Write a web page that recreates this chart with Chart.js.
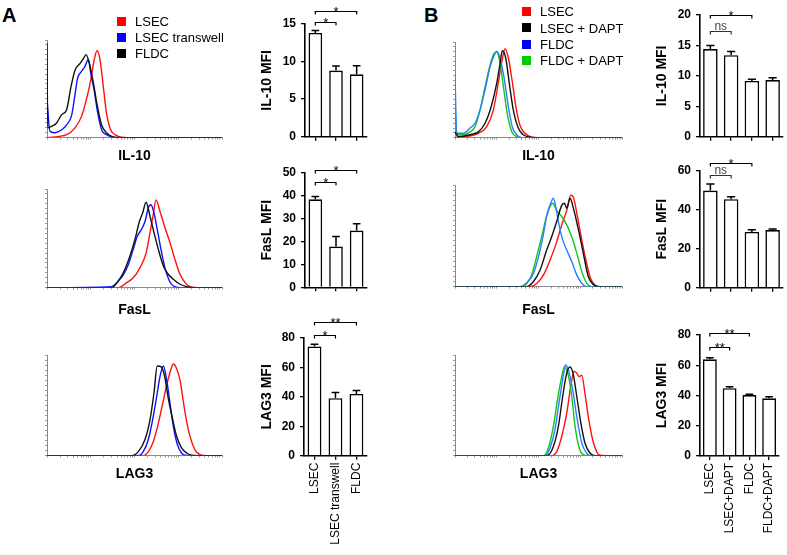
<!DOCTYPE html>
<html>
<head>
<meta charset="utf-8">
<script src="https://cdn.jsdelivr.net/npm/chart.js@4.4.0/dist/chart.umd.min.js"></script>
<style>
  body { margin: 0; background: #fff; width: 787px; height: 555px; position: relative; overflow: hidden;
         font-family: "Liberation Sans", Arial, sans-serif; }
  .box { position: absolute; }
  .pl { position: absolute; font-weight: bold; font-size: 20px; line-height: 20px; }
  .lg { position: absolute; font-size: 13px; line-height: 15px; white-space: nowrap; }
  .sq { position: absolute; width: 9px; height: 9px; }
</style>
</head>
<body>
<div class="pl" style="left:2px;top:5px">A</div>
<div class="pl" style="left:424px;top:5px">B</div>

<div class="box" style="left:30px;top:30px;width:200px;height:135px"><canvas id="hA1"></canvas></div>
<div class="box" style="left:30px;top:179px;width:200px;height:140px"><canvas id="hA2"></canvas></div>
<div class="box" style="left:30px;top:345px;width:200px;height:138px"><canvas id="hA3"></canvas></div>
<div class="box" style="left:438px;top:32px;width:192px;height:133px"><canvas id="hB1"></canvas></div>
<div class="box" style="left:438px;top:175px;width:192px;height:144px"><canvas id="hB2"></canvas></div>
<div class="box" style="left:438px;top:345px;width:192px;height:138px"><canvas id="hB3"></canvas></div>

<div class="box" style="left:255px;top:0px;width:120px;height:150px"><canvas id="bA1"></canvas></div>
<div class="box" style="left:255px;top:150px;width:120px;height:150px"><canvas id="bA2"></canvas></div>
<div class="box" style="left:255px;top:300px;width:120px;height:255px"><canvas id="bA3"></canvas></div>
<div class="box" style="left:650px;top:0px;width:137px;height:150px"><canvas id="bB1"></canvas></div>
<div class="box" style="left:650px;top:150px;width:137px;height:150px"><canvas id="bB2"></canvas></div>
<div class="box" style="left:650px;top:300px;width:137px;height:255px"><canvas id="bB3"></canvas></div>

<div id="legA"></div>
<div id="legB"></div>

<script>
// histogram traces: [position along log axis (0-100), % of max]
const a1Black = [[0,97],[0.4,10],[2.7,11.5],[5.5,15],[8.4,23.5],[11.2,28.6],[13.7,52],[16,69],[18.9,76],[20.8,81],[22.3,85],[24.2,76],[26.5,56],[28.8,32],[31.2,13],[34,5],[37,1.3],[41.7,0],[100,0]];
const a1Blue = [[0,39],[1.7,6.4],[4.6,5],[8.4,8],[11.2,13],[14.1,23],[16,44],[17.5,61],[19.8,68],[21.7,73],[23.6,80],[25,66],[26.9,49],[28.8,27],[31.2,8],[34,3],[37,0.7],[40,0],[100,0]];
const a1Red = [[0,0],[11.2,3],[16,10],[19.8,22],[22.7,40.5],[25,59],[27,80],[28.6,89],[30.3,80],[32.2,52],[34,25],[36.4,8],[38.9,3],[41.7,0.7],[47.6,0],[100,0]];

const a2Black = [[0,0],[37,0],[40,5],[43.6,15],[47.4,32],[50.3,49],[52.8,67],[54.7,76],[56.6,86.5],[58.9,72],[61.1,56],[63.6,39],[66.5,22],[69.3,13.5],[72.2,8.5],[76,3.4],[79.8,1],[85,0],[100,0]];
const a2Blue = [[0,0],[37,1],[40.8,6.7],[43.6,13],[46.5,23.5],[49.3,39],[51.6,52],[54,59],[56,67],[57.9,81],[59.4,84],[61.1,76],[63,59],[65.1,39],[67.4,20],[69.9,7],[72.2,1.6],[76,0],[100,0]];
const a2Red = [[0,0],[40.8,0],[45.5,5],[49.3,10],[53.1,20],[56.6,35],[58.9,56],[60.7,74],[62.3,89],[64.6,77],[67.4,61],[70.3,45.5],[73.1,28.6],[76,13.5],[78.9,5],[81.7,1],[86,0],[100,0]];

const a3Black = [[0,0],[48.4,0],[52.2,4],[56,16],[58.9,36],[61.1,62],[63,89],[65.5,88],[67.4,77],[69.3,57],[71.8,36],[74.1,19],[76.9,7.6],[79.8,2.6],[82.6,0.5],[86,0],[100,0]];
const a3Blue = [[0,0],[52.2,0],[55,4],[57.9,16],[60.4,36],[62.7,59],[64.6,79],[66.5,89],[68.4,75],[70.3,52],[72.2,29],[74.5,11],[76.9,2.6],[78.7,0.5],[82,0],[100,0]];
const a3Red = [[0,0],[55,0],[57.9,4],[60.8,14],[63.6,32],[66.5,55],[68.4,70],[70.7,85],[72.2,91],[73.7,88],[76,75],[78.3,49],[80.7,26],[83.2,11],[85.5,3.3],[87.4,1],[91,0],[100,0]];

const b1Red = [[0,0],[14,4.5],[19,11.5],[23,29],[26,58],[28,79],[30,93],[32,83],[34,62],[36.5,32],[38.9,13],[41.9,4.5],[45.9,0.5],[50,0],[100,0]];
const b1Black = [[0,6],[2,1],[9,3],[14,6],[18,15],[21.6,32],[25,57],[27,77.5],[28.3,91],[30.4,83],[32.5,57],[34.9,29],[37.9,10],[40.9,3],[44.8,0.5],[48,0],[100,0]];
const b1Blue = [[0,67],[1,4.5],[5,4.5],[9,10],[12,15],[15,29],[18,50],[21,74],[23.4,86],[25,90],[27,83],[29.3,63.5],[32,32],[34.5,10],[37.5,2],[40,0],[100,0]];
const b1Green = [[0,39],[1,3],[5,3],[9,6],[12,11.5],[15,29],[18,53],[21,76],[23.4,88],[25,89.5],[27,77.5],[29,53],[31.3,25],[34,6],[37,1],[40,0],[100,0]];

const b2Blue = [[0,0],[39,0],[43,4],[47,13],[50,29.5],[53,52],[55,70.5],[57.3,82],[58.9,87],[60.5,77],[62.5,59],[64.5,46],[66.9,36],[69.9,24.6],[72.9,11.5],[75.9,3.3],[78.8,0],[100,0]];
const b2Green = [[0,0],[41,0],[43,3],[45.9,11.5],[48.9,29.5],[51.9,49],[54.5,67],[56.9,79],[58.5,82],[60.9,75],[63.9,69],[66.9,60.7],[69.9,49],[72.9,33],[75.9,15],[78.8,3.3],[81.8,0],[100,0]];
const b2Black = [[0,0],[43,0],[47,5],[50.9,16],[54.9,36],[57.9,49],[60.9,64],[63.9,80],[65.5,82],[66.9,77],[68.9,87],[70.9,77],[73.9,56],[76.8,33],[79.8,10],[82.8,2],[85.8,0],[100,0]];
const b2Red = [[0,0],[45,0],[48.9,3],[53,11.5],[56.9,26],[60.9,44],[63.9,60.7],[66.9,75],[69.3,90],[70.9,88],[73.3,69],[75.9,46],[78.8,23],[81.2,8],[83.8,1.6],[86.8,0],[100,0]];

const b3Green = [[0,0],[52.9,0],[55.9,7.6],[58.9,29],[61.3,55],[63.9,78.5],[65.5,88],[67.5,82],[69.9,59],[71.9,29],[74.4,7.6],[76.8,1],[80,0],[100,0]];
const b3Blue = [[0,0],[54,0],[56.9,7.6],[59.9,26],[62.5,55],[64.9,80],[66.1,90],[67.9,85],[70.5,65],[72.9,39],[75.9,12.5],[78.8,2.6],[80.8,0],[100,0]];
const b3Black = [[0,0],[55,0],[58.9,9],[61.9,29],[64.5,59],[66.9,82],[68.9,88],[70.9,80],[72.9,59],[75.3,33],[77.8,12.5],[80.8,2.6],[83.8,0],[100,0]];
const b3Red = [[0,0],[57.9,0],[60.9,4],[63.9,19],[66.9,42],[69.3,69],[71.3,84],[72.9,82],[74.4,78.5],[75.9,80],[77.8,62],[79.8,39],[82.4,16],[84.8,4],[86.8,0.3],[90,0],[100,0]];

// bar charts
const labelsA = ["LSEC", "LSEC transwell", "FLDC"];
const labelsB = ["LSEC", "LSEC+DAPT", "FLDC", "FLDC+DAPT"];
const il10A = [13.8, 8.8, 8.3];
const il10AErr = [0.35, 0.6, 1.15];
const faslA = [38.5, 17.8, 24.8];
const faslAErr = [1.2, 4.4, 3.0];
const lag3A = [74.3, 39.1, 42.0];
const lag3AErr = [1.5, 3.8, 2.3];
const il10B = [14.4, 13.4, 9.15, 9.3];
const il10BErr = [0.6, 0.6, 0.3, 0.4];
const faslB = [49.8, 45.4, 28.6, 29.6];
const faslBErr = [3.4, 1.3, 1.1, 0.5];
const lag3B = [63.9, 44.8, 40.3, 38.1];
const lag3BErr = [1.0, 1.0, 0.5, 1.0];

// significance brackets: [from bar, to bar, height, label]
const il10ASig = [[0, 1, 15.3, "*"], [0, 2, 16.7, "*"]];
const faslASig = [[0, 1, 45.9, "*"], [0, 2, 51.1, "*"]];
const lag3ASig = [[0, 1, 82.2, "*"], [0, 2, 90.6, "**"]];
const il10BSig = [[0, 1, 17.3, "ns"], [0, 2, 20.0, "*"]];
const faslBSig = [[0, 1, 57.8, "ns"], [0, 2, 63.8, "*"]];
const lag3BSig = [[0, 1, 72.3, "**"], [0, 2, 81.5, "**"]];

const legendA = ["LSEC", "LSEC transwell", "FLDC"];
const legendAColors = ["#ff0000", "#0000ff", "#000000"];
const legendB = ["LSEC", "LSEC + DAPT", "FLDC", "FLDC + DAPT"];
const legendBColors = ["#ff0000", "#000000", "#0000ff", "#00cc00"];

Chart.defaults.font.family = '"Liberation Sans", Arial, sans-serif';
Chart.defaults.animation = false;

const RED = "#ff1010", BLACK = "#111111", BLUE_A = "#1010ff", BLUE_B = "#2a7dff", GREEN = "#12c41a";

function line(pts, color) {
  return {
    data: pts.map(p => ({ x: p[0], y: p[1] })),
    borderColor: color,
    borderWidth: 1.4,
    pointRadius: 0,
    cubicInterpolationMode: "monotone",
    fill: false,
  };
}

function histChart(id, title, sets, xh) {
  new Chart(document.getElementById(id), {
    type: "line",
    data: { datasets: sets },
    options: {
      responsive: true,
      maintainAspectRatio: false,
      layout: { padding: { top: 10, right: 8, left: 0, bottom: 0 } },
      plugins: { legend: { display: false }, tooltip: { enabled: false } },
      scales: {
        x: {
          type: "linear", min: 0, max: 100,
          afterBuildTicks: (s) => {
            // log-style minor ticks, 4 decades
            const t = [];
            for (let d = 0; d < 4; d++) for (let k = 1; k < 10; k++) t.push({ value: 25 * d + 25 * Math.log10(k) });
            t.push({ value: 100 });
            s.ticks = t;
          },
          afterFit: (s) => { s.height = xh; },
          ticks: { display: false },
          grid: { drawOnChartArea: false, drawTicks: true, tickLength: 2, color: "#999" },
          border: { display: true, color: "#8a8a8a", width: 1 },
          title: { display: true, text: title, color: "#000", font: { size: 14, weight: "bold" }, padding: 0 },
        },
        y: {
          min: 0, max: 100,
          afterFit: (s) => { s.width = 17; },
          ticks: { display: false, stepSize: 5 },
          grid: { drawOnChartArea: false, drawTicks: true, tickLength: 2, color: "#999" },
          border: { display: true, color: "#8a8a8a", width: 1 },
        },
      },
    },
  });
}

function sigPlugin(err, sig) {
  return {
    id: "sig",
    afterDatasetsDraw(chart) {
      const ctx = chart.ctx;
      const y = chart.scales.y;
      const bars = chart.getDatasetMeta(0).data;
      const vals = chart.data.datasets[0].data;
      ctx.save();
      ctx.strokeStyle = "#000";
      ctx.lineWidth = 1.5;
      err.forEach((e, i) => {
        const b = bars[i];
        const top = y.getPixelForValue(vals[i] + e);
        const w = b.width * 0.28;
        ctx.beginPath();
        ctx.moveTo(b.x, b.y);
        ctx.lineTo(b.x, top);
        ctx.moveTo(b.x - w, top);
        ctx.lineTo(b.x + w, top);
        ctx.stroke();
      });
      ctx.lineWidth = 1.2;
      ctx.textAlign = "center";
      ctx.textBaseline = "alphabetic";
      sig.forEach(([a, b, v, t]) => {
        const x1 = bars[a].x, x2 = bars[b].x, py = Math.round(y.getPixelForValue(v)) + 0.5;
        const ns = t === "ns";
        ctx.strokeStyle = ns ? "#333" : "#000";
        ctx.beginPath();
        ctx.moveTo(x1, py + 3);
        ctx.lineTo(x1, py);
        ctx.lineTo(x2, py);
        ctx.lineTo(x2, py + 3);
        ctx.stroke();
        ctx.fillStyle = ns ? "#444" : "#000";
        ctx.font = ns ? '12px "Liberation Sans", Arial' : '13px "Liberation Sans", Arial';
        ctx.fillText(t, (x1 + x2) / 2, ns ? py - 1.5 : py + 4);
      });
      ctx.restore();
    },
  };
}

function barChart(id, labels, vals, err, sig, title, max, step, g) {
  new Chart(document.getElementById(id), {
    type: "bar",
    data: {
      labels: labels,
      datasets: [{
        data: vals,
        backgroundColor: "#ffffff",
        borderColor: "#000000",
        borderWidth: 1.6,
        barPercentage: g.bar,
        categoryPercentage: 1,
      }],
    },
    plugins: [sigPlugin(err, sig)],
    options: {
      responsive: true,
      maintainAspectRatio: false,
      layout: { padding: { top: g.top, right: g.right, left: 0, bottom: 0 } },
      plugins: { legend: { display: false }, tooltip: { enabled: false } },
      scales: {
        x: {
          afterFit: (s) => { s.height = g.xh; },
          ticks: {
            display: g.showLabels, color: "#000", font: { size: 12 },
            minRotation: 90, maxRotation: 90, autoSkip: false, padding: 3,
          },
          grid: { offset: false, drawOnChartArea: false, drawTicks: true, tickLength: 4, color: "#000", lineWidth: 1.3 },
          border: { display: true, color: "#000", width: 1.6 },
        },
        y: {
          min: 0, max: max,
          afterFit: (s) => { s.width = g.yw; },
          ticks: { stepSize: step, color: "#000", font: { size: 12, weight: "bold" }, padding: 5 },
          grid: { drawOnChartArea: false, drawTicks: true, tickLength: 4, color: "#000", lineWidth: 1.3 },
          border: { display: true, color: "#000", width: 1.6 },
          title: { display: true, text: title, color: "#000", font: { size: 14, weight: "bold" }, padding: { top: 4, bottom: 0 } },
        },
      },
    },
  });
}

histChart("hA1", "IL-10", [line(a1Black, BLACK), line(a1Blue, BLUE_A), line(a1Red, RED)], 27.4);
histChart("hA2", "FasL", [line(a2Black, BLACK), line(a2Blue, BLUE_A), line(a2Red, RED)], 31.4);
histChart("hA3", "LAG3", [line(a3Black, BLACK), line(a3Blue, BLUE_A), line(a3Red, RED)], 27.4);
histChart("hB1", "IL-10", [line(b1Black, BLACK), line(b1Blue, BLUE_B), line(b1Green, GREEN), line(b1Red, RED)], 27.4);
histChart("hB2", "FasL", [line(b2Black, BLACK), line(b2Blue, BLUE_B), line(b2Green, GREEN), line(b2Red, RED)], 32.4);
histChart("hB3", "LAG3", [line(b3Black, BLACK), line(b3Blue, BLUE_B), line(b3Green, GREEN), line(b3Red, RED)], 27.4);

barChart("bA1", labelsA, il10A, il10AErr, il10ASig, "IL-10 MFI", 15, 5, { top: 24, right: 8, yw: 50, xh: 13.3, bar: 0.66, showLabels: false });
barChart("bA2", labelsA, faslA, faslAErr, faslASig, "FasL MFI", 50, 10, { top: 23, right: 8, yw: 50, xh: 12.7, bar: 0.66, showLabels: false });
barChart("bA3", labelsA, lag3A, lag3AErr, lag3ASig, "LAG3 MFI", 80, 20, { top: 38, right: 7, yw: 49, xh: 99.3, bar: 0.66, showLabels: true });
barChart("bB1", labelsB, il10B, il10BErr, il10BSig, "IL-10 MFI", 20, 5, { top: 15, right: 4, yw: 50, xh: 13.3, bar: 0.7, showLabels: false });
barChart("bB2", labelsB, faslB, faslBErr, faslBSig, "FasL MFI", 60, 20, { top: 20.7, right: 4, yw: 50, xh: 11.7, bar: 0.7, showLabels: false });
barChart("bB3", labelsB, lag3B, lag3BErr, lag3BSig, "LAG3 MFI", 80, 20, { top: 35, right: 4, yw: 50, xh: 99, bar: 0.7, showLabels: true });

function legend(el, names, colors, x, y0, gap) {
  const host = document.getElementById(el);
  names.forEach((n, i) => {
    const c = y0 + i * gap;
    const sq = document.createElement("div");
    sq.className = "sq";
    sq.style.left = x + "px";
    sq.style.top = (c - 4.5) + "px";
    sq.style.background = colors[i];
    host.appendChild(sq);
    const t = document.createElement("div");
    t.className = "lg";
    t.style.left = (x + 18) + "px";
    t.style.top = (c - 7.4) + "px";
    t.textContent = n;
    host.appendChild(t);
  });
}
legend("legA", legendA, legendAColors, 117, 21.5, 15.8);
legend("legB", legendB, legendBColors, 522, 11.7, 16.2);
</script>
</body>
</html>
